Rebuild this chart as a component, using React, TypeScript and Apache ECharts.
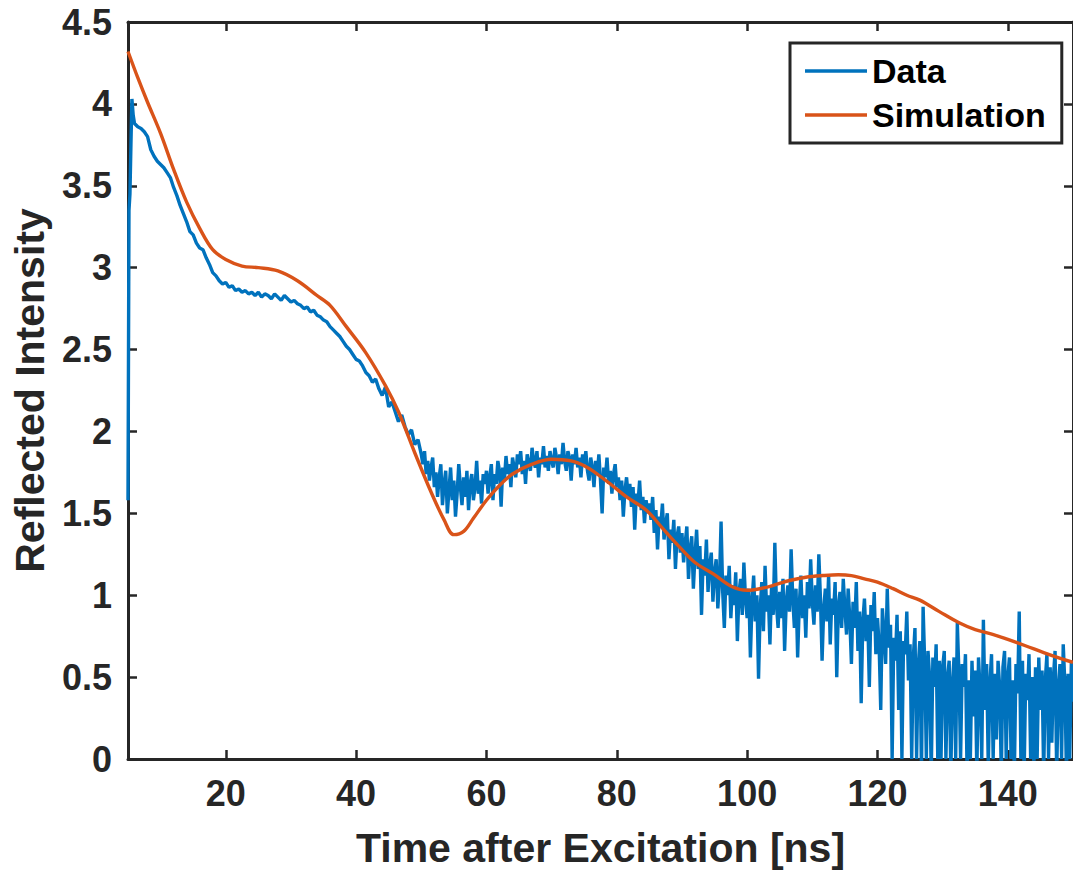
import React, { useEffect, useRef } from "react";
import * as echarts from "echarts";

// Measured reflectivity: onset samples, a 0.5 ns grid from 6 to 49.5 ns, then a 0.25 ns grid from 50 to 150 ns
const onsetTimes = [5.0, 5.15, 5.3, 5.45, 5.6, 5.8];
const onsetValues = [1.58, 3.35, 3.45, 3.75, 4.03, 3.93];

const earlyStart = 6;
const earlyStep = 0.5;
const earlyValues = [
  3.88, 3.86, 3.85, 3.83, 3.80, 3.72, 3.68, 3.65, 3.63, 3.61,
  3.58, 3.55, 3.49, 3.44, 3.38, 3.33, 3.28, 3.22, 3.20, 3.15,
  3.12, 3.11, 3.06, 3.02, 2.97, 2.95, 2.92, 2.90, 2.91, 2.88,
  2.89, 2.86, 2.87, 2.85, 2.86, 2.84, 2.85, 2.83, 2.85, 2.82,
  2.84, 2.83, 2.81, 2.84, 2.82, 2.80, 2.83, 2.81, 2.79, 2.80,
  2.78, 2.77, 2.75, 2.76, 2.73, 2.74, 2.71, 2.70, 2.68, 2.67,
  2.64, 2.62, 2.60, 2.58, 2.55, 2.52, 2.50, 2.47, 2.44, 2.43,
  2.40, 2.36, 2.34, 2.30, 2.32, 2.26, 2.22, 2.27, 2.15, 2.18,
  2.12, 2.06, 2.10, 2.03, 1.98, 2.01, 1.92, 1.95,
];

const lateStart = 50;
const lateStep = 0.25;
const lateValues = [
  1.86, 1.80, 1.88, 1.74, 1.82, 1.70, 1.78, 1.84, 1.66, 1.75, 1.60, 1.72, 1.80, 1.55, 1.68, 1.76, 1.50, 1.64, 1.78, 1.58,
  1.70, 1.48, 1.62, 1.80, 1.66, 1.55, 1.72, 1.60, 1.76, 1.52, 1.68, 1.74, 1.58, 1.66, 1.82, 1.62, 1.70, 1.56, 1.74, 1.68,
  1.76, 1.62, 1.72, 1.80, 1.58, 1.74, 1.68, 1.82, 1.76, 1.54, 1.78, 1.70, 1.85, 1.74, 1.80, 1.66, 1.84, 1.78, 1.72, 1.86,
  1.80, 1.88, 1.74, 1.82, 1.68, 1.86, 1.80, 1.76, 1.90, 1.82, 1.78, 1.88, 1.72, 1.84, 1.80, 1.91, 1.78, 1.85, 1.76, 1.88,
  1.82, 1.78, 1.90, 1.84, 1.74, 1.86, 1.80, 1.93, 1.82, 1.76, 1.88, 1.84, 1.70, 1.86, 1.80, 1.90, 1.78, 1.84, 1.72, 1.86,
  1.80, 1.88, 1.76, 1.70, 1.84, 1.78, 1.66, 1.82, 1.74, 1.86, 1.70, 1.50, 1.78, 1.72, 1.84, 1.68, 1.76, 1.62, 1.74, 1.80,
  1.66, 1.72, 1.58, 1.70, 1.48, 1.64, 1.72, 1.60, 1.68, 1.54, 1.66, 1.40, 1.62, 1.56, 1.70, 1.52, 1.60, 1.44, 1.58, 1.50,
  1.56, 1.46, 1.60, 1.38, 1.52, 1.28, 1.48, 1.42, 1.56, 1.34, 1.44, 1.50, 1.22, 1.40, 1.32, 1.46, 1.16, 1.36, 1.42, 1.26,
  1.38, 1.20, 1.32, 1.42, 1.10, 1.28, 1.36, 1.04, 1.24, 1.40, 1.16, 1.30, 0.88, 1.22, 1.12, 1.34, 1.02, 1.18, 1.26, 0.96,
  1.14, 1.22, 0.92, 1.08, 1.45, 1.02, 0.80, 1.12, 1.00, 1.18, 0.86, 1.06, 0.94, 1.14, 0.72, 1.02, 1.10, 0.88, 1.20, 0.98,
  0.86, 1.04, 0.62, 0.96, 1.12, 0.84, 1.00, 0.49, 0.92, 1.08, 0.78, 1.18, 0.90, 1.00, 0.70, 1.06, 0.88, 1.32, 0.94, 0.80,
  1.02, 0.86, 1.10, 0.66, 0.96, 1.06, 0.90, 1.28, 0.98, 0.80, 1.04, 0.62, 0.94, 1.12, 0.86, 1.00, 0.74, 1.08, 0.92, 1.22,
  0.96, 0.82, 1.06, 0.90, 1.25, 0.98, 0.60, 0.92, 1.04, 0.84, 1.12, 0.70, 0.98, 0.88, 1.08, 0.50, 0.94, 1.02, 0.80, 1.10,
  0.92, 0.76, 1.04, 0.86, 0.58, 0.96, 0.80, 1.08, 0.66, 0.90, 0.34, 0.84, 0.98, 0.72, 0.88, 0.44, 0.94, 0.78, 1.02, 0.64,
  0.86, 0.70, 0.30, 0.92, 0.76, 0.58, 1.04, 0.68, 0.82, 0.00, 0.74, 0.60, 0.88, 0.30, 0.78, 0.00, 0.72, 0.64, 0.90, 0.48,
  0.70, 0.00, 0.62, 0.80, 0.00, 0.56, 0.72, -0.10, 0.93, 0.58, 0.00, 0.66, 0.50, -0.10, 0.62, 0.44, 0.70, 0.00, 0.60, 0.00,
  0.56, 0.66, 0.00, 0.50, 0.60, -0.10, 0.46, 0.62, 0.00, 0.83, 0.52, 0.00, 0.58, 0.44, 0.64, -0.10, 0.48, 0.00, 0.60, 0.26,
  0.54, -0.10, 0.62, 0.42, 0.00, 0.85, 0.30, 0.58, -0.05, 0.46, 0.64, 0.00, 0.52, 0.12, 0.60, 0.44, -0.10, 0.56, 0.66, 0.00,
  0.50, 0.62, 0.00, 0.48, -0.10, 0.58, 0.40, 0.90, 0.00, 0.60, -0.10, 0.52, 0.36, 0.64, 0.00, 0.50, -0.05, 0.56, 0.00, 0.62,
  0.30, 0.54, -0.10, 0.48, 0.64, 0.00, 0.56, 0.10, 0.50, 0.66, -0.10, 0.44, 0.58, 0.00, 0.70, 0.46, -0.10, 0.52, 0.00, 0.60,
  0.35,
];

// Simulated curve
const simTimes = [
  5, 6.5, 8, 10, 12, 14, 16, 18, 20, 22.5, 25, 28, 31, 34, 36, 38.5, 41.5, 44.5, 46.5, 49,
  51.5, 53.5, 55, 56.5, 58, 60, 62, 64, 67, 70, 73, 75, 77, 79.3, 81.5, 84.5, 87, 89.5, 92, 94.8,
  97.8, 100, 102, 104, 106.5, 109, 111.6, 114, 116, 118, 120, 122.4, 124.5, 126.5, 129.5, 132.6,
  135, 137.8, 140, 142.8, 145.5, 148.4, 150,
];
const simValues = [
  4.32, 4.16, 4.01, 3.82, 3.60, 3.40, 3.24, 3.11, 3.05, 3.01, 3.00, 2.98, 2.92, 2.83, 2.77, 2.64, 2.48, 2.28, 2.12, 1.87,
  1.63, 1.46, 1.37, 1.39, 1.47, 1.58, 1.67, 1.74, 1.80, 1.83, 1.82, 1.79, 1.74, 1.67, 1.60, 1.52, 1.41, 1.30, 1.20, 1.13,
  1.05, 1.03, 1.04, 1.06, 1.09, 1.11, 1.12, 1.125, 1.12, 1.10, 1.08, 1.04, 1.00, 0.97, 0.90, 0.83,
  0.79, 0.76, 0.73, 0.69, 0.65, 0.61, 0.59,
];

const seriesNames = ["Data", "Simulation"];
const xTitle = "Time after Excitation [ns]";
const yTitle = "Reflected Intensity";

export default function App() {
  const ref = useRef<HTMLDivElement>(null);
  useEffect(() => {
    if (!ref.current) return;
    const chart = echarts.init(ref.current, undefined, { renderer: "svg" });
    const axisColor = "#262626";
    const font = "'Liberation Sans', Arial, Helvetica, sans-serif";

    const dataPairs: number[][] = [];
    onsetTimes.forEach((t, i) => dataPairs.push([t, onsetValues[i]]));
    earlyValues.forEach((v, i) => dataPairs.push([earlyStart + i * earlyStep, v]));
    lateValues.forEach((v, i) => dataPairs.push([lateStart + i * lateStep, v]));
    const simPairs = simTimes.map((t, i) => [t, simValues[i]]);

    const tickLabel = {
      color: axisColor,
      fontSize: 36,
      fontWeight: "bold" as const,
      fontFamily: font,
    };
    const line = { show: true, onZero: false, lineStyle: { color: axisColor, width: 3 } };
    const tick = { show: true, inside: true, length: 9, lineStyle: { color: axisColor, width: 2.5 } };

    chart.setOption({
      animation: false,
      backgroundColor: "#ffffff",
      grid: { left: 128, top: 22, right: -5, bottom: 113 },
      legend: {
        data: seriesNames,
        orient: "vertical",
        left: 790,
        top: 43,
        icon: "rect",
        itemWidth: 62,
        itemHeight: 3.5,
        itemGap: 6,
        padding: [9, 16, 9, 15],
        borderColor: axisColor,
        borderWidth: 3,
        backgroundColor: "#ffffff",
        selectedMode: false,
        textStyle: { fontSize: 34, fontWeight: "bold", color: "#000", fontFamily: font, lineHeight: 38 },
      },
      xAxis: [
        {
          type: "value",
          position: "bottom",
          min: 5,
          max: 150,
          splitNumber: 7,
          minInterval: 20,
          maxInterval: 20,
          axisLine: line,
          axisTick: tick,
          splitLine: { show: false },
          axisLabel: { ...tickLabel, margin: 16, showMinLabel: false, showMaxLabel: false },
          name: xTitle,
          nameLocation: "middle",
          nameGap: 68,
          nameTextStyle: { color: axisColor, fontSize: 41, fontWeight: "bold", fontFamily: font },
        },
        {
          type: "value",
          position: "top",
          min: 5,
          max: 150,
          splitNumber: 7,
          minInterval: 20,
          maxInterval: 20,
          axisLine: line,
          axisTick: tick,
          splitLine: { show: false },
          axisLabel: { show: false },
        },
      ],
      yAxis: [
        {
          type: "value",
          position: "left",
          min: 0,
          max: 4.5,
          interval: 0.5,
          axisLine: line,
          axisTick: tick,
          splitLine: { show: false },
          axisLabel: { ...tickLabel, margin: 16 },
          name: yTitle,
          nameLocation: "middle",
          nameGap: 78,
          nameTextStyle: { color: axisColor, fontSize: 41, fontWeight: "bold", fontFamily: font },
        },
        {
          type: "value",
          position: "right",
          min: 0,
          max: 4.5,
          interval: 0.5,
          axisLine: line,
          axisTick: tick,
          splitLine: { show: false },
          axisLabel: { show: false },
        },
      ],
      series: [
        {
          name: seriesNames[0],
          type: "line",
          xAxisIndex: 0,
          yAxisIndex: 0,
          data: dataPairs,
          symbol: "none",
          showSymbol: false,
          clip: true,
          itemStyle: { color: "#0072BD" },
          lineStyle: { color: "#0072BD", width: 3.4 },
          z: 2,
        },
        {
          name: seriesNames[1],
          type: "line",
          xAxisIndex: 0,
          yAxisIndex: 0,
          data: simPairs,
          smooth: 0.35,
          symbol: "none",
          showSymbol: false,
          clip: true,
          itemStyle: { color: "#D95319" },
          lineStyle: { color: "#D95319", width: 3.4 },
          z: 3,
        },
      ],
    });
    return () => chart.dispose();
  }, []);

  return (
    <div
      ref={ref}
      style={{ position: "fixed", left: 0, top: 0, width: 1073, height: 873, background: "#fff" }}
    />
  );
}
